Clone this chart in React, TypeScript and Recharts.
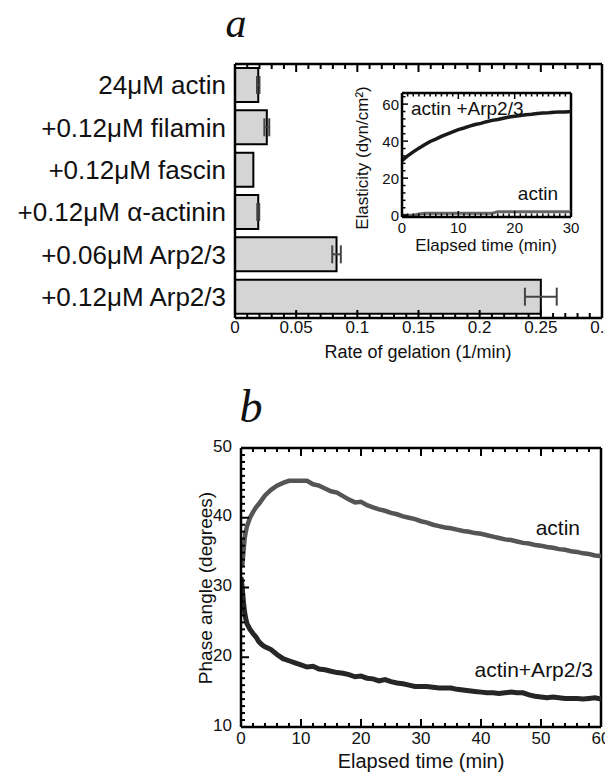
import React from 'react';
import { BarChart, Bar, XAxis, YAxis, ErrorBar, LineChart, Line, ReferenceLine } from 'recharts';

// ---------- Panel a: rate of gelation ----------
const categories = ['24μM actin', '+0.12μM filamin', '+0.12μM fascin', '+0.12μM α-actinin', '+0.06μM Arp2/3', '+0.12μM Arp2/3'];
const gelationRate = [0.019, 0.026, 0.015, 0.019, 0.083, 0.25];
const gelationErr = [0.001, 0.002, 0, 0.0008, 0.0035, 0.013];
const rateMajorTicks = [0, 0.05, 0.1, 0.15, 0.2, 0.25, 0.3];

// ---------- Inset: elasticity ----------
const insetTime = [0, 1, 2, 3, 4, 5, 6, 7, 8, 9, 10, 11, 12, 13, 14, 15, 16, 17, 18, 19, 20, 21, 22, 23, 24, 25, 26, 27, 28, 29, 30];
const insetArp = [29.5, 32, 34.2, 36.2, 38, 39.8, 41.1, 42.6, 43.8, 45, 46.2, 47.1, 48.1, 49, 49.6, 50.5, 51.2, 51.7, 52.4, 53, 53.4, 53.8, 54.3, 54.5, 54.9, 55.2, 55.3, 55.6, 55.8, 55.8, 56];
const insetActin = [0, 0, 0, 0.6, 1, 1, 1, 1, 1, 1, 1, 1, 1, 1, 1, 1, 1, 1.8, 1.8, 1.8, 1.8, 1.8, 1.8, 1.8, 1.8, 1.8, 1.8, 1.8, 1.8, 1.8, 1.8];
const insetXTicks = [0, 10, 20, 30];
const insetYTicks = [0, 20, 40, 60];

// ---------- Panel b: phase angle ----------
const actinTime = [0.2, 0.4, 0.6, 0.8, 1, 1.5, 2, 2.5, 3, 3.5, 4, 5, 6, 7, 8, 9, 10, 11, 12, 13, 14, 15, 16, 17, 18, 19, 20, 21, 22, 23, 24, 25, 26, 27, 28, 29, 30, 31, 32, 33, 34, 35, 36, 37, 38, 39, 40, 41, 42, 43, 44, 45, 46, 47, 48, 49, 50, 51, 52, 53, 54, 55, 56, 57, 58, 59, 60];
const actinPhase = [33, 35, 37, 38, 38.8, 40, 40.8, 41.5, 42, 42.6, 43.2, 44, 44.6, 45, 45.3, 45.3, 45.3, 45.3, 44.8, 44.6, 44.2, 43.8, 43.6, 43.1, 42.6, 42.2, 42.3, 41.8, 41.5, 41.2, 41, 40.7, 40.5, 40.2, 40, 39.8, 39.5, 39.3, 39, 38.8, 38.6, 38.5, 38.3, 38.1, 38, 37.8, 37.7, 37.5, 37.3, 37.1, 36.9, 36.8, 36.6, 36.4, 36.3, 36.1, 36, 35.8, 35.7, 35.5, 35.4, 35.2, 35.1, 34.9, 34.8, 34.6, 34.5];
const arpTime = [0, 0.2, 0.4, 0.6, 0.8, 1, 1.5, 2, 2.5, 3, 3.5, 4, 5, 6, 7, 8, 9, 10, 11, 12, 13, 14, 15, 16, 17, 18, 19, 20, 21, 22, 23, 24, 25, 26, 27, 28, 29, 30, 31, 32, 33, 34, 35, 36, 37, 38, 39, 40, 41, 42, 43, 44, 45, 46, 47, 48, 49, 50, 51, 52, 53, 54, 55, 56, 57, 58, 59, 60];
const arpPhase = [31.5, 30, 28, 26.5, 25.5, 24.8, 24, 23.4, 22.9, 22.2, 21.8, 21.5, 21.1, 20.4, 19.8, 19.5, 19.2, 18.9, 18.6, 18.7, 18.3, 18.2, 18, 17.8, 17.7, 17.5, 17.2, 17.3, 17, 16.9, 16.6, 16.8, 16.5, 16.3, 16.2, 16, 15.8, 15.8, 15.8, 15.7, 15.6, 15.6, 15.6, 15.4, 15.3, 15.2, 15.1, 15.0, 14.9, 14.9, 14.8, 14.9, 15, 14.9, 14.9, 14.6, 14.4, 14.3, 14.2, 14.3, 14.2, 14.1, 14.1, 14.1, 14.0, 14.1, 14.2, 14.0];
const phaseXTicks = [0, 10, 20, 30, 40, 50, 60];
const phaseYTicks = [10, 20, 30, 40, 50];

const FONT = '"Liberation Sans", Arial, Helvetica, sans-serif';
const SERIF = '"Liberation Serif", "Times New Roman", serif';

function steps(start: number, end: number, step: number): number[] {
  const out: number[] = [];
  const n = Math.round((end - start) / step);
  for (let i = 0; i <= n; i++) out.push(+(start + i * step).toFixed(4));
  return out;
}

function makeXTick(o: any) {
  return (props: any) => {
    const { x, y, payload } = props;
    const v = payload.value;
    const isMajor = o.majors.some((m: number) => Math.abs(m - Number(v)) < 1e-6);
    const len = isMajor ? o.majorLen : o.minorLen;
    const y2 = o.side === 'bottom' ? y - len : y + len;
    return (
      <g>
        <line x1={x} y1={y} x2={x} y2={y2} stroke="#000" strokeWidth={o.sw || 2} />
        {o.label && isMajor ? (
          <text x={x} y={y + o.gap} textAnchor="middle" fontSize={o.fontSize} fontFamily={FONT} fill="#111">{String(v)}</text>
        ) : null}
      </g>
    );
  };
}

function makeYTick(o: any) {
  return (props: any) => {
    const { x, y, payload } = props;
    const ax = x + 8;
    const v = payload.value;
    const isMajor = o.majors.some((m: number) => Math.abs(m - Number(v)) < 1e-6);
    const len = isMajor ? o.majorLen : o.minorLen;
    return (
      <g>
        <line x1={ax} y1={y} x2={ax + len} y2={y} stroke="#000" strokeWidth={o.sw || 2} />
        {isMajor ? (
          <text x={ax - o.gap} y={y + (o.dy || 0)} textAnchor="end" dominantBaseline="central" fontSize={o.fontSize} fontFamily={FONT} fill="#111">{String(v)}</text>
        ) : null}
      </g>
    );
  };
}

function Txt(p: { x: number; y: number; size: number; anchor?: 'start' | 'middle' | 'end'; rotate?: boolean; serif?: boolean; italic?: boolean; children: React.ReactNode }) {
  const anchor = p.anchor || 'middle';
  const tx = anchor === 'middle' ? '-50%' : anchor === 'end' ? '-100%' : '0';
  if (p.rotate) {
    return (
      <div style={{ position: 'absolute', left: p.x, top: p.y, transform: 'translate(-50%, -50%) rotate(-90deg)', fontSize: p.size, lineHeight: 1, fontFamily: FONT, color: '#111', whiteSpace: 'nowrap' }}>
        {p.children}
      </div>
    );
  }
  return (
    <div style={{ position: 'absolute', left: p.x, top: p.y - 0.85 * p.size, transform: `translateX(${tx})`, fontSize: p.size, lineHeight: 1, fontFamily: p.serif ? SERIF : FONT, fontStyle: p.italic ? 'italic' : 'normal', color: '#111', whiteSpace: 'nowrap' }}>
      {p.children}
    </div>
  );
}

const axisLineStyle = (w: number) => ({ stroke: '#000', strokeWidth: w });
const commonX = { tickLine: false, tickSize: 0, tickMargin: 0, interval: 0 as const, allowDataOverflow: true };

export default function App() {
  const barData = categories.map((name, i) => ({ name, rate: gelationRate[i], err: gelationErr[i] }));
  const insetArpData = insetTime.map((t, i) => ({ t, v: insetArp[i] }));
  const insetActinData = insetTime.map((t, i) => ({ t, v: insetActin[i] }));
  const actinData = actinTime.map((t, i) => ({ t, v: actinPhase[i] }));
  const arpData = arpTime.map((t, i) => ({ t, v: arpPhase[i] }));

  const rateMinor = steps(0, 0.3, 0.01);
  const insetXMinor = steps(0, 30, 1);
  const insetYMinor = steps(0, 64, 4);
  const phaseXMinor = steps(0, 60, 2);
  const phaseYMinor = steps(10, 50, 1);

  return (
    <div style={{ margin: '-8px 0 0 -8px', width: 613 }}>
      {/* Panel a */}
      <div style={{ height: 370 }}>
        <BarChart width={613} height={370} data={barData} layout="vertical" margin={{ top: 64, right: 11, bottom: 0, left: 0 }} barCategoryGap={4}>
          <XAxis xAxisId="b" type="number" orientation="bottom" domain={[0, 0.3]} ticks={rateMinor} height={52} axisLine={axisLineStyle(2.5)}
            tick={makeXTick({ side: 'bottom', majors: rateMajorTicks, majorLen: 8, minorLen: 5, label: true, fontSize: 17, gap: 15 })} {...commonX} />
          <XAxis xAxisId="t" type="number" orientation="top" mirror domain={[0, 0.3]} ticks={rateMinor} axisLine={axisLineStyle(2.5)}
            tick={makeXTick({ side: 'top', majors: rateMajorTicks, majorLen: 8, minorLen: 5 })} {...commonX} />
          <YAxis yAxisId="c" type="category" dataKey="name" width={235} axisLine={axisLineStyle(2.5)} tickLine={false} interval={0}
            tick={(p: any) => (
              <text x={p.x - 1} y={p.y} textAnchor="end" dominantBaseline="central" fontSize={26} fontFamily={FONT} fill="#111">{p.payload.value}</text>
            )} />
          <ReferenceLine x={0.3} xAxisId="b" yAxisId="c" stroke="#000" strokeWidth={2.5} />
          <Bar dataKey="rate" xAxisId="b" yAxisId="c" fill="#d5d5d5" stroke="#000" strokeWidth={2} isAnimationActive={false}>
            <ErrorBar dataKey="err" direction="x" width={9} stroke="#444" strokeWidth={2} isAnimationActive={false} />
          </Bar>
        </BarChart>
      </div>

      {/* Inset (overlaps panel a) */}
      <div style={{ marginTop: -300, marginLeft: 340, width: 240, height: 190 }}>
        <LineChart width={240} height={190} margin={{ top: 23, right: 9, bottom: 0, left: 0 }}>
          <XAxis xAxisId="b" dataKey="t" type="number" orientation="bottom" domain={[0, 30]} ticks={insetXMinor} height={43} axisLine={axisLineStyle(2.5)}
            tick={makeXTick({ side: 'bottom', majors: insetXTicks, majorLen: 6, minorLen: 3.5, label: true, fontSize: 15, gap: 16, sw: 1.5 })} {...commonX} />
          <XAxis xAxisId="t" dataKey="t" type="number" orientation="top" mirror domain={[0, 30]} ticks={insetXMinor} axisLine={axisLineStyle(2.5)}
            tick={makeXTick({ side: 'top', majors: insetXTicks, majorLen: 6, minorLen: 3.5, sw: 1.5 })} {...commonX} />
          <YAxis yAxisId="l" type="number" domain={[-1, 66]} ticks={insetYMinor} width={62} axisLine={axisLineStyle(2.5)} tickLine={false} interval={0}
            tick={makeYTick({ majors: insetYTicks, majorLen: 6, minorLen: 3.5, fontSize: 15, gap: 3, sw: 1.5 })} />
          <ReferenceLine x={30} xAxisId="b" yAxisId="l" stroke="#000" strokeWidth={2.5} />
          <Line data={insetActinData} dataKey="v" xAxisId="b" yAxisId="l" type="linear" stroke="#666" strokeWidth={3} dot={false} isAnimationActive={false} />
          <Line data={insetArpData} dataKey="v" xAxisId="b" yAxisId="l" type="linear" stroke="#1a1a1a" strokeWidth={3.5} dot={false} isAnimationActive={false} />
        </LineChart>
      </div>

      {/* Panel b */}
      <div style={{ marginTop: 120, height: 398 }}>
        <LineChart width={613} height={398} margin={{ top: 68, right: 12, bottom: 0, left: 0 }}>
          <XAxis xAxisId="b" dataKey="t" type="number" orientation="bottom" domain={[0, 60]} ticks={phaseXMinor} height={51} axisLine={axisLineStyle(2.5)}
            tick={makeXTick({ side: 'bottom', majors: phaseXTicks, majorLen: 8, minorLen: 4, label: true, fontSize: 17, gap: 17 })} {...commonX} />
          <XAxis xAxisId="t" dataKey="t" type="number" orientation="top" mirror domain={[0, 60]} ticks={phaseXMinor} axisLine={axisLineStyle(2.5)}
            tick={makeXTick({ side: 'top', majors: phaseXTicks, majorLen: 8, minorLen: 4 })} {...commonX} />
          <YAxis yAxisId="l" type="number" domain={[10, 50]} ticks={phaseYMinor} width={241} axisLine={axisLineStyle(2.5)} tickLine={false} interval={0}
            tick={makeYTick({ majors: phaseYTicks, majorLen: 8, minorLen: 4, fontSize: 17, gap: 9, dy: -2 })} />
          <ReferenceLine x={60} xAxisId="b" yAxisId="l" stroke="#000" strokeWidth={2.5} />
          <Line data={actinData} dataKey="v" xAxisId="b" yAxisId="l" type="linear" stroke="#555" strokeWidth={4.5} dot={false} isAnimationActive={false} />
          <Line data={arpData} dataKey="v" xAxisId="b" yAxisId="l" type="linear" stroke="#262626" strokeWidth={5} dot={false} isAnimationActive={false} />
        </LineChart>
      </div>

      {/* Titles and annotations */}
      <Txt x={236} y={38} size={42} serif italic>a</Txt>
      <Txt x={251} y={423} size={46} serif italic>b</Txt>

      <Txt x={418} y={358} size={18}>Rate of gelation (1/min)</Txt>

      <Txt x={362} y={158} size={17} rotate>Elasticity (dyn/cm²)</Txt>
      <Txt x={486} y={251} size={17}>Elapsed time (min)</Txt>
      <Txt x={411} y={115} size={19} anchor="start">actin +Arp2/3</Txt>
      <Txt x={558} y={200} size={19} anchor="end">actin</Txt>

      <Txt x={205} y={588} size={19} rotate>Phase angle (degrees)</Txt>
      <Txt x={421} y={768} size={20}>Elapsed time (min)</Txt>
      <Txt x={580} y={535} size={21} anchor="end">actin</Txt>
      <Txt x={593} y={677} size={21} anchor="end">actin+Arp2/3</Txt>
    </div>
  );
}
